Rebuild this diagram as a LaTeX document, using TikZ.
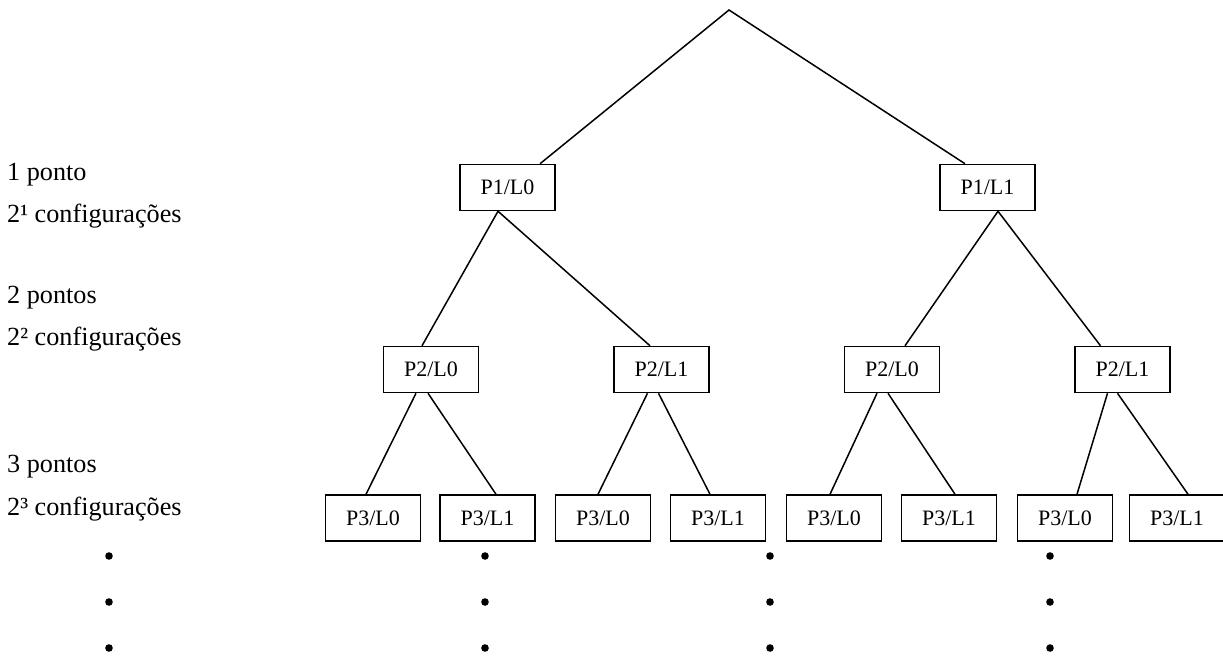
\documentclass[tikz,border=0pt]{standalone}
\usepackage{fontspec}
\setmainfont{Liberation Serif}
\begin{document}
\begin{tikzpicture}[x=1pt,y=-1pt,
  box/.style={draw,line width=1.5pt,minimum width=95pt,minimum height=46pt,inner sep=0pt,font=\fontsize{22}{22}\selectfont},
  edge/.style={line width=1.5pt},
  lab/.style={anchor=base west,inner sep=0pt,font=\fontsize{26.2}{26.2}\selectfont},
  dot/.style={fill=black,draw=none}]
\useasboundingbox (0,0) rectangle (1223,656);

% root
\coordinate (root) at (729,10);

% level 1
\node[box] (a0) at (507.5,187.5) {P1/L0};
\node[box] (a1) at (987.5,187.5) {P1/L1};

% level 2
\node[box] (b00) at (431,369.5) {P2/L0};
\node[box] (b01) at (661.5,369.5) {P2/L1};
\node[box] (b10) at (892,369.5) {P2/L0};
\node[box] (b11) at (1122.5,369.5) {P2/L1};

% level 3
\node[box] (c0) at (373,518) {P3/L0};
\node[box] (c1) at (487.5,518) {P3/L1};
\node[box] (c2) at (603,518) {P3/L0};
\node[box] (c3) at (718,518) {P3/L1};
\node[box] (c4) at (834,518) {P3/L0};
\node[box] (c5) at (949,518) {P3/L1};
\node[box] (c6) at (1065,518) {P3/L0};
\node[box] (c7) at (1177,518) {P3/L1};

% branches
\draw[edge] ([xshift=32.5pt]a0.north) -- (root) -- ([xshift=-22.5pt]a1.north);

\draw[edge] ([xshift=-9pt]b00.north) -- ([xshift=-9.5pt]a0.south) -- ([xshift=-11.5pt]b01.north);
\draw[edge] ([xshift=13pt]b10.north) -- ([xshift=10.5pt]a1.south) -- ([xshift=-22pt]b11.north);

\draw[edge] ([xshift=-15pt]b00.south) -- ([xshift=-7pt]c0.north);
\draw[edge] ([xshift=-3pt]b00.south) -- ([xshift=8.5pt]c1.north);
\draw[edge] ([xshift=-14pt]b01.south) -- ([xshift=-5pt]c2.north);
\draw[edge] ([xshift=-3pt]b01.south) -- ([xshift=-8pt]c3.north);
\draw[edge] ([xshift=-15pt]b10.south) -- ([xshift=-4pt]c4.north);
\draw[edge] ([xshift=-4pt]b10.south) -- ([xshift=6pt]c5.north);
\draw[edge] ([xshift=-15pt]b11.south) -- ([xshift=12pt]c6.north);
\draw[edge] ([xshift=-5pt]b11.south) -- ([xshift=11pt]c7.north);

% level captions
\node[lab] (t1) at (7,180) {1 ponto};
\node[lab] (t2) at (7,222) {2¹ configurações};
\node[lab] (t3) at (7,303) {2 pontos};
\node[lab] (t4) at (7,345) {2² configurações};
\node[lab] (t5) at (7,472) {3 pontos};
\node[lab] (t6) at (7,515) {2³ configurações};

% continuation dots
\foreach \x in {109,485,770,1050}
  \foreach \y in {556,602,648}
    \fill[dot] (\x,\y) circle (3.8pt);
\end{tikzpicture}
\end{document}
